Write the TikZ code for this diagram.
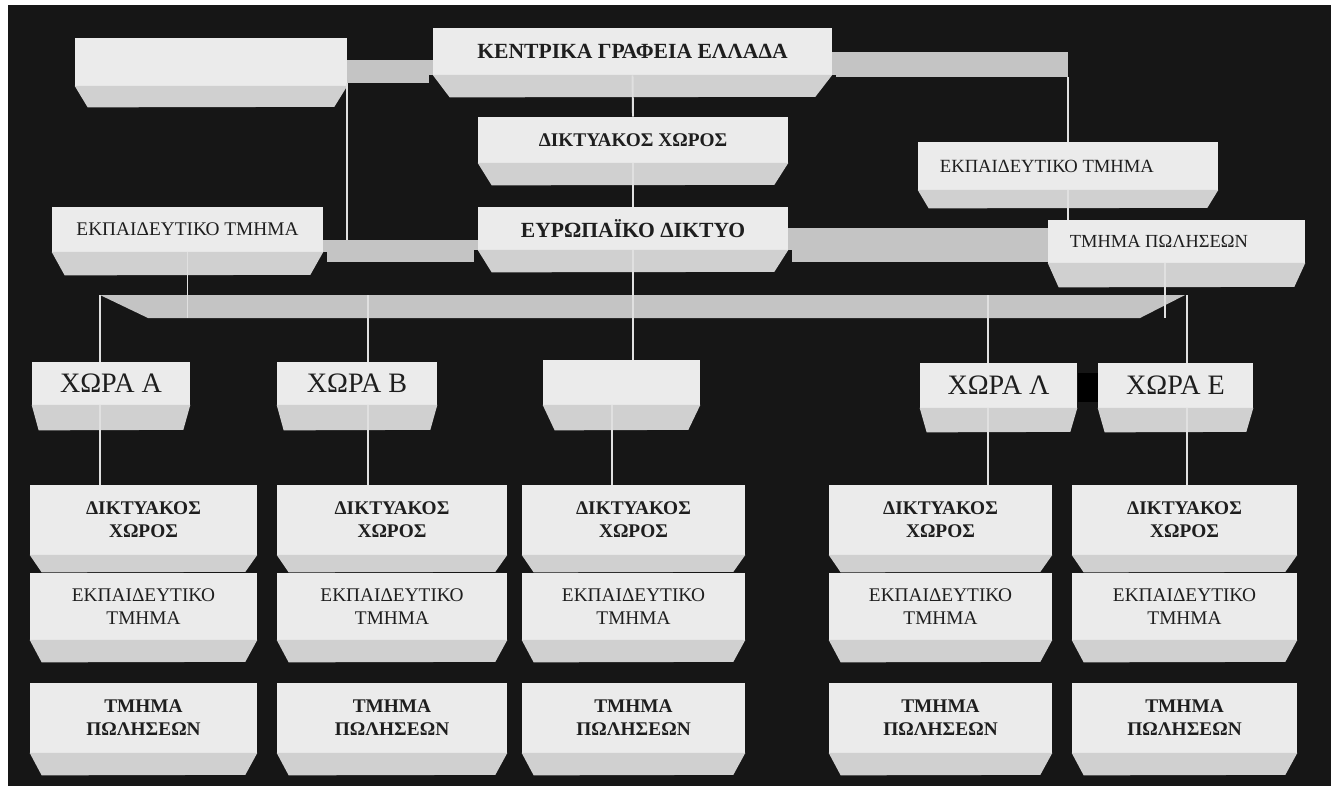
\documentclass[tikz,border=0pt]{standalone}
\usepackage{fontspec}
\setmainfont{Liberation Serif}
\usetikzlibrary{calc}

\definecolor{board}{HTML}{161616}
\definecolor{slabface}{HTML}{EBEBEB}
\definecolor{slabside}{HTML}{D0D0D0}
\definecolor{barfill}{HTML}{C4C4C4}
\definecolor{wirecol}{HTML}{E0E0E0}
\definecolor{ink}{HTML}{1E1E1E}

\begin{document}
\begin{tikzpicture}[x=0.02cm, y=-0.02cm,
        slab/.style 2 args={rectangle, fill=slabface, text=ink, inner sep=0pt, align=center,
            minimum width={(#1)*0.02cm}, minimum height={(#2)*0.02cm}},
        bar/.style 2 args={rectangle, fill=barfill, inner sep=0pt,
            minimum width={(#1)*0.02cm}, minimum height={(#2)*0.02cm}},
        wire/.style={draw=wirecol, line width=1.1pt},
        txt/.style={font=\fontsize{11}{13}\selectfont},
        txtb/.style={font=\bfseries\fontsize{11}{13}\selectfont},
        head/.style={font=\bfseries\fontsize{12.3}{14}\selectfont},
        land/.style={font=\fontsize{16}{18}\selectfont},
    ]
    \useasboundingbox (0,0) rectangle (1337,792);
    \fill[white] (0,0) rectangle (1337,792);
    \fill[board] (8,5) rectangle (1331,786);

    % bars
    \node[bar={86}{23}] (barTL) at (390,71.5) {};
    \node[bar={236}{25}] (barTR) at (950,64.5) {};
    \node[bar={155}{22}] (barML) at (400.5,251) {};
    \node[bar={260}{34}] (barMR) at (918,245) {};
    \fill[barfill] (100,295) -- (1185,295) -- (1140,318) -- (148,318) -- cycle;
    \coordinate (shelfB) at (0,318);
    \coordinate (tA) at (100,295);
    \coordinate (tB) at (368,295);
    \coordinate (tL) at (988,295);
    \coordinate (tE) at (1187,295);
    \coordinate (tC) at (612,430);
    \coordinate (tP) at (1165,287);

    % top levels
    \node[slab={272}{48}] (blankTL) at (211,62) {};
    \node[slab={399}{47}, head] (kentrika) at (632.5,51.5) {ΚΕΝΤΡΙΚΑ ΓΡΑΦΕΙΑ ΕΛΛΑΔΑ};
    \node[slab={310}{46}, txtb] (diktyC) at (633,140) {ΔΙΚΤΥΑΚΟΣ ΧΩΡΟΣ};
    \node[slab={300}{48}, font=\fontsize{10.6}{13}\selectfont] (ekpR) at (1068,166) {ΕΚΠΑΙΔΕΥΤΙΚΟ ΤΜΗΜΑ\hspace*{24pt}};
    \node[slab={271}{45}, txt] (ekpL) at (187.5,229.5) {ΕΚΠΑΙΔΕΥΤΙΚΟ ΤΜΗΜΑ};
    \node[slab={310}{43}, head] (evrop) at (633,228.5) {ΕΥΡΩΠΑΪΚΟ ΔΙΚΤΥΟ};
    \node[slab={257}{43}, font=\fontsize{10.5}{13}\selectfont] (poliR) at (1176.5,241.5) {ΤΜΗΜΑ ΠΩΛΗΣΕΩΝ\hspace*{20pt}};

    % countries
    \node[slab={158}{43}, land] (xA) at (111,383.5) {ΧΩΡΑ Α};
    \node[slab={160}{43}, land] (xB) at (357,383.5) {ΧΩΡΑ Β};
    \node[slab={157}{45}] (xC) at (621.5,382.5) {};
    \node[slab={157}{45}, land] (xL) at (998.5,385.5) {ΧΩΡΑ Λ};
    \node[slab={155}{45}, land] (xE) at (1175.5,385.5) {ΧΩΡΑ Ε};
    \fill[black] (1078,373) rectangle (1098,402);

    % departments per country
    \foreach \c/\cx/\w in {1/143.5/227, 2/392/230, 3/633.5/223, 4/940.5/223, 5/1184.5/225} {
        \node[slab={\w}{70}, txtb] (dk\c) at (\cx,520) {ΔΙΚΤΥΑΚΟΣ\\ΧΩΡΟΣ};
        \node[slab={\w}{67}, txt] (ek\c) at (\cx,606.5) {ΕΚΠΑΙΔΕΥΤΙΚΟ\\ΤΜΗΜΑ};
        \node[slab={\w}{70}, txtb] (tp\c) at (\cx,718) {ΤΜΗΜΑ\\ΠΩΛΗΣΕΩΝ};
    }

    % bevels
    \foreach \n/\ins/\dep in {blankTL/13/21, kentrika/17/22, diktyC/14/22, ekpR/11/18,
            ekpL/13/23, evrop/14/22, poliR/11/24, xA/7/25, xB/7/25, xC/12/25, xL/7/24, xE/7/24,
            dk1/12/17, dk2/12/17, dk3/12/17, dk4/12/17, dk5/12/17,
            ek1/12/22, ek2/12/22, ek3/12/22, ek4/12/22, ek5/12/22,
            tp1/12/22, tp2/12/22, tp3/12/22, tp4/12/22, tp5/12/22} {
        \fill[board] ($(\n.south west)+(-4,0)$) rectangle ($(\n.south east)+(4,\dep)$);
        \fill[slabside] ([yshift=0.3pt]\n.south west) -- ([yshift=0.3pt]\n.south east) -- ++(-\ins,\dep)
            -- ($(\n.south west)+(\ins,\dep)$) -- cycle;
    }

    % connectors
    \draw[wire] (barTL.south west) -- (barTL.south west |- barML.north);
    \draw[wire] (barTR.south east) -- (barTR.south east |- ekpR.north);
    \draw[wire] (ekpR.south) -- (ekpR.south |- poliR.north);
    \draw[wire] (kentrika.south) -- (diktyC.north);
    \draw[wire] (diktyC.south) -- (evrop.north);
    \draw[wire] (evrop.south) -- (evrop.south |- xC.north);
    \draw[wire] (ekpL.south) -- (ekpL.south |- shelfB);
    \draw[wire] (tP |- poliR.south) -- (tP |- shelfB);
    \draw[wire] (tC |- xC.south) -- (tC |- dk3.north);
    \foreach \t/\x/\k in {tA/xA/1, tB/xB/2, tL/xL/4, tE/xE/5} {
        \draw[wire] (\t) -- (\t |- \x.north);
        \draw[wire] (\t |- \x.south) -- (\t |- dk\k.north);
    }
\end{tikzpicture}
\end{document}
